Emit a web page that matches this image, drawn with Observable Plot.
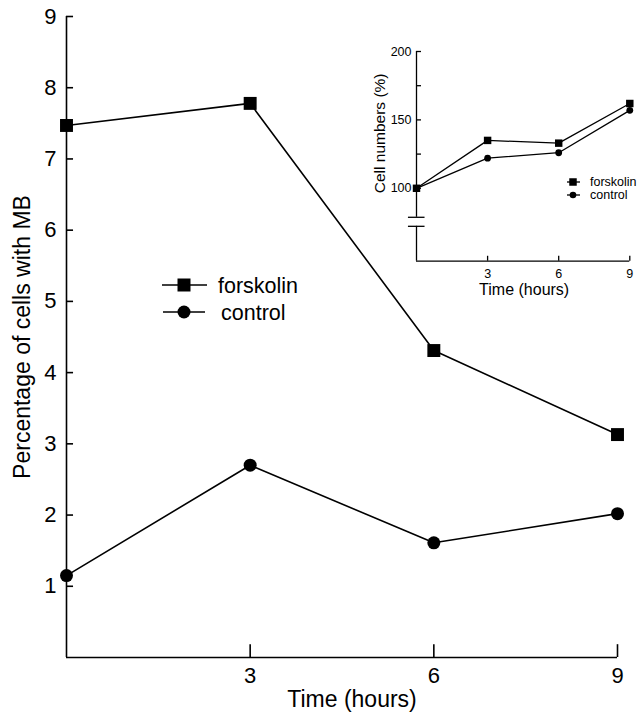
<!DOCTYPE html>
<html><head><meta charset="utf-8">
<script src="https://cdn.jsdelivr.net/npm/d3@7"></script>
<script src="https://cdn.jsdelivr.net/npm/@observablehq/plot@0.6"></script>
<style>
html,body{margin:0;padding:0;background:#fff;}
#wrap{position:relative;width:640px;height:712px;}
#main{position:absolute;left:0;top:0;}
#inset{position:absolute;left:360px;top:30px;}
</style></head><body>
<div id="wrap"><div id="main"></div><div id="inset"></div></div>
<script>
// ---- data ----
const hours = [0, 3, 6, 9];
const forskolinMB = [7.47, 7.78, 4.31, 3.13];
const controlMB = [1.15, 2.70, 1.61, 2.02];
const mainXTicks = [3, 6, 9];
const mainYTicks = [1, 2, 3, 4, 5, 6, 7, 8, 9];

const forskolinCells = [100, 135, 133, 162];
const controlCells = [100, 122, 126, 157];
const insetXTicks = [3, 6, 9];
const insetYLabels = [100, 150, 200];
const insetYTicks = [100, 125, 150, 175, 200];

const seriesNames = ["forskolin", "control"];
const yLabelMain = "Percentage of cells with MB";
const xLabel = "Time (hours)";
const yLabelInset = "Cell numbers (%)";

const font = "'Liberation Sans', Arial, Helvetica, sans-serif";
const toTable = (vals) => hours.map((h, i) => ({h, v: vals[i]}));
const fmt = d => String(d);

// ---- main chart ----
const fMain = toTable(forskolinMB), cMain = toTable(controlMB);
const sw = 1.6;
const main = Plot.plot({
  width: 640, height: 712,
  marginLeft: 66, marginRight: 23, marginTop: 16, marginBottom: 55,
  style: {fontFamily: font, background: "transparent", color: "#000"},
  x: {domain: [0, 9]},
  y: {domain: [0, 9]},
  marks: [
    Plot.axisY(mainYTicks, {tickSize: 0, tickPadding: 10, fontSize: 22, label: null, tickFormat: fmt}),
    Plot.axisX(mainXTicks, {tickSize: 0, tickPadding: 10, fontSize: 22, label: null, tickFormat: fmt}),
    Plot.ruleX([0], {strokeWidth: sw}),
    Plot.ruleY([0], {strokeWidth: sw}),
    Plot.ruleY(mainYTicks, {y: d => d, x1: 0, x2: 0.115, strokeWidth: sw}),
    Plot.ruleX(mainXTicks, {x: d => d, y1: 0, y2: 0.18, strokeWidth: sw}),
    Plot.line(fMain, {x: "h", y: "v", strokeWidth: sw}),
    Plot.line(cMain, {x: "h", y: "v", strokeWidth: sw}),
    Plot.dot(fMain, {x: "h", y: "v", symbol: "square", r: 7.3, fill: "#000", stroke: "none"}),
    Plot.dot(cMain, {x: "h", y: "v", symbol: "circle", r: 6.5, fill: "#000", stroke: "none"}),
    Plot.text([yLabelMain], {text: d => d, frameAnchor: "left", textAnchor: "middle", lineAnchor: "middle", rotate: -90, dx: -44, fontSize: 23}),
    Plot.text([xLabel], {text: d => d, frameAnchor: "bottom", textAnchor: "middle", lineAnchor: "middle", dx: 10, dy: 42, fontSize: 23})
  ]
});
document.getElementById("main").appendChild(main);

function drawLegend(svg, rows) {
  const g = d3.select(svg).append("g").attr("fill", "#000").attr("stroke", "#000");
  rows.forEach(r => {
    g.append("line").attr("x1", r.x1).attr("x2", r.x2).attr("y1", r.y).attr("y2", r.y)
      .attr("stroke-width", r.sw);
    g.append("path").attr("d", d3.symbol(r.symbol, r.size)())
      .attr("transform", `translate(${r.mx},${r.y})`).attr("stroke", "none");
    g.append("text").attr("x", r.tx).attr("y", r.y).attr("dy", "0.35em")
      .attr("text-anchor", "start")
      .attr("stroke", "none").attr("font-family", font).attr("font-size", r.fs).text(r.label);
  });
}
drawLegend(main, [
  {label: seriesNames[0], symbol: d3.symbolSquare, size: 13 * 13, x1: 162, x2: 207, mx: 184, y: 285, tx: 218, fs: 21.5, sw: sw},
  {label: seriesNames[1], symbol: d3.symbolCircle, size: Math.PI * 6.5 * 6.5, x1: 163, x2: 205, mx: 184, y: 312, tx: 221, fs: 21.5, sw: sw}
]);

// ---- inset ----
const fIn = toTable(forskolinCells), cIn = toTable(controlCells);
const yMin = 46.7, breakTop = 78.8, breakBottom = 72.2;
const isw = 1.3;
const inset = Plot.plot({
  width: 280, height: 280,
  marginLeft: 56, marginRight: 10.7, marginTop: 21, marginBottom: 49.3,
  style: {fontFamily: font, background: "transparent", color: "#000"},
  x: {domain: [0, 9]},
  y: {domain: [yMin, 200]},
  marks: [
    Plot.axisY(insetYLabels, {tickSize: 0, tickPadding: 5, fontSize: 12.5, label: null, tickFormat: fmt}),
    Plot.axisX(insetXTicks, {tickSize: 0, tickPadding: 7.5, fontSize: 12.5, label: null, tickFormat: fmt}),
    Plot.ruleY([yMin], {strokeWidth: isw}),
    Plot.ruleX([0], {y1: 200, y2: breakTop, strokeWidth: isw}),
    Plot.ruleX([0], {y1: breakBottom, y2: yMin, strokeWidth: isw}),
    Plot.ruleY([breakTop, breakBottom], {y: d => d, x1: -0.34, x2: 0.36, strokeWidth: isw}),
    Plot.ruleY(insetYTicks, {y: d => d, x1: 0, x2: 0.21, strokeWidth: isw}),
    Plot.ruleX(insetXTicks, {x: d => d, y1: yMin, y2: yMin + 3.6, strokeWidth: isw}),
    Plot.line(fIn, {x: "h", y: "v", strokeWidth: isw}),
    Plot.line(cIn, {x: "h", y: "v", strokeWidth: isw}),
    Plot.dot(fIn, {x: "h", y: "v", symbol: "square", r: 4.2, fill: "#000", stroke: "none"}),
    Plot.dot(cIn, {x: "h", y: "v", symbol: "circle", r: 3.4, fill: "#000", stroke: "none"}),
    Plot.text([yLabelInset], {text: d => d, frameAnchor: "left", textAnchor: "middle", lineAnchor: "middle", rotate: -90, dx: -36, dy: -23, fontSize: 15.5}),
    Plot.text([xLabel], {text: d => d, frameAnchor: "bottom", textAnchor: "middle", lineAnchor: "middle", dx: 1, dy: 29, fontSize: 16})
  ]
});
document.getElementById("inset").appendChild(inset);
drawLegend(inset, [
  {label: seriesNames[0], symbol: d3.symbolSquare, size: 7.5 * 7.5, x1: 207, x2: 220, mx: 213, y: 152, tx: 230, fs: 12.5, sw: isw},
  {label: seriesNames[1], symbol: d3.symbolCircle, size: Math.PI * 3.3 * 3.3, x1: 207, x2: 220, mx: 213, y: 165, tx: 230, fs: 12.5, sw: isw}
]);
</script>
</body></html>
